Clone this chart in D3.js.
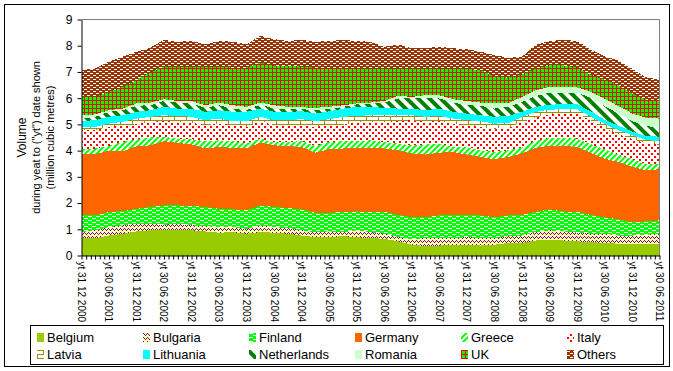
<!DOCTYPE html>
<html>
<head>
<meta charset="utf-8">
<script src="https://cdn.jsdelivr.net/npm/d3@7/dist/d3.min.js"></script>
<style>
body { margin: 0; background: #fff; }
svg { font-family: Arial, "Liberation Sans", sans-serif; }
</style>
</head>
<body>
<script>
var width = 673,
    height = 371;

// quarter ends shown on the chart (volume during year to date, million m3)
var quarters = ["2000-12","2001-03","2001-06","2001-09","2001-12","2002-03","2002-06","2002-09",
  "2002-12","2003-03","2003-06","2003-09","2003-12","2004-03","2004-06","2004-09","2004-12",
  "2005-03","2005-06","2005-09","2005-12","2006-03","2006-06","2006-09","2006-12","2007-03",
  "2007-06","2007-09","2007-12","2008-03","2008-06","2008-09","2008-12","2009-03","2009-06",
  "2009-09","2009-12","2010-03","2010-06","2010-09","2010-12","2011-03","2011-06"];

var belgium = [.66,.66,.76,.83,.92,.96,.98,.99,.96,.92,.87,.89,.83,.89,.87,.83,.76,.70,.70,.74,.70,.66,
  .64,.54,.41,.36,.38,.41,.41,.38,.41,.48,.48,.57,.61,.57,.54,.51,.48,.45,.45,.45,.45];
var bulgaria = [.23,.30,.32,.32,.29,.25,.19,.22,.19,.20,.21,.19,.19,.26,.21,.21,.20,.19,.22,.15,.26,.23,
  .19,.16,.20,.30,.28,.25,.29,.28,.25,.26,.28,.32,.35,.35,.33,.32,.35,.31,.31,.34,.38];
var finland = [.64,.57,.58,.54,.57,.64,.74,.70,.74,.73,.70,.68,.70,.76,.77,.77,.80,.74,.71,.77,.72,.77,
  .83,.85,.85,.80,.87,.87,.85,.87,.80,.79,.79,.77,.80,.76,.79,.72,.63,.62,.51,.51,.51];
var germany = [2.36,2.33,2.33,2.28,2.39,2.35,2.45,2.38,2.35,2.23,2.36,2.34,2.36,2.40,2.35,2.36,2.38,
  2.29,2.42,2.42,2.42,2.44,2.42,2.46,2.43,2.39,2.39,2.42,2.30,2.23,2.21,2.23,2.34,2.44,2.42,2.50,
  2.48,2.37,2.23,2.19,2.11,1.95,1.95];
var greece = [.19,.22,.19,.36,.26,.30,.16,.17,.19,.28,.25,.26,.19,.15,.11,.16,.22,.26,.28,.28,.26,.29,
  .25,.26,.31,.38,.35,.19,.29,.25,.28,.25,.23,.28,.30,.32,.32,.33,.36,.28,.30,.23,.21];
var italy = [.70,.70,.72,.64,.57,.60,.60,.64,.64,.61,.64,.61,.63,.66,.66,.64,.63,.72,.64,.63,.71,.71,
  .77,.85,.96,.87,.85,.89,.83,.89,.89,.86,.96,.88,.90,.92,.96,.91,.81,.78,.77,.80,.72];
var latvia = [.12,.12,.13,.13,.22,.19,.23,.22,.22,.19,.19,.15,.22,.17,.19,.19,.21,.22,.23,.30,.25,.25,
  .25,.23,.19,.19,.20,.19,.19,.22,.19,.18,.20,.22,.18,.16,.16,.14,.16,.15,.14,.13,.14];
var lithuania = [.23,.26,.26,.25,.26,.25,.32,.28,.31,.32,.32,.36,.36,.31,.32,.32,.30,.29,.30,.31,.35,.32,
  .28,.25,.25,.25,.28,.26,.25,.23,.26,.27,.20,.19,.19,.19,.19,.20,.16,.17,.14,.15,.17];
var netherlands = [.09,.13,.19,.19,.23,.19,.22,.23,.20,.15,.19,.12,.06,.16,.12,.12,.08,.13,.08,.07,.09,.11,
  .20,.39,.39,.47,.39,.35,.32,.36,.31,.35,.38,.41,.46,.43,.44,.52,.52,.46,.40,.38,.34];
var romania = [.13,.09,.06,.06,.09,.10,.07,.06,.09,.10,.10,.13,.13,.07,.13,.07,.07,.09,.09,.06,.04,.05,
  .06,.10,.06,.10,.12,.13,.16,.12,.23,.13,.19,.22,.22,.24,.20,.23,.28,.29,.29,.31,.35];
var uk = [.70,.67,.70,.83,.89,1.15,1.24,1.31,1.28,1.47,1.37,1.43,1.49,1.52,1.51,1.57,1.55,1.53,1.49,
  1.43,1.33,1.30,1.24,1.04,1.08,1.00,1.02,1.17,1.22,1.24,.99,.98,.85,.82,.83,.81,.75,.65,.72,.80,
  .76,.70,.70];
var others = [1.02,1.08,1.15,1.15,1.08,.94,1.02,.95,1.01,.85,.98,.99,.89,1.03,1.01,.94,1.02,.99,1.02,
  1.06,1.05,1.02,.83,.92,.77,.81,.83,.77,.76,.70,.82,.76,.68,.91,.92,.97,1.02,.95,.90,.93,.94,.85,.79];

var seriesNames = ["Belgium","Bulgaria","Finland","Germany","Greece","Italy",
  "Latvia","Lithuania","Netherlands","Romania","UK","Others"];
var seriesValues = [belgium, bulgaria, finland, germany, greece, italy,
  latvia, lithuania, netherlands, romania, uk, others];

var tickLabels = ["yt 31 12 2000","yt 30 06 2001","yt 31 12 2001","yt 30 06 2002","yt 31 12 2002",
  "yt 30 06 2003","yt 31 12 2003","yt 30 06 2004","yt 31 12 2004","yt 30 06 2005","yt 31 12 2005",
  "yt 30 06 2006","yt 31 12 2006","yt 30 06 2007","yt 31 12 2007","yt 30 06 2008","yt 31 12 2008",
  "yt 30 06 2009","yt 31 12 2009","yt 30 06 2010","yt 31 12 2010","yt 30 06 2011"];
var yTicks = [0,1,2,3,4,5,6,7,8,9];

var parseQ = d3.timeParse("%Y-%m");
var parseLabel = d3.timeParse("%d %m %Y");

var rows = quarters.map(function (q, i) {
  var r = { date: parseQ(q) };
  seriesNames.forEach(function (name, j) { r[name] = seriesValues[j][i]; });
  return r;
});

var svg = d3.select("body").append("svg")
  .attr("width", width)
  .attr("height", height);

// fill patterns, roughly like the old spreadsheet ones
var defs = svg.append("defs");

function pattern(id, w, h, bg, transform) {
  var p = defs.append("pattern")
    .attr("id", id)
    .attr("patternUnits", "userSpaceOnUse")
    .attr("width", w)
    .attr("height", h);
  if (transform) p.attr("patternTransform", transform);
  p.append("rect").attr("width", w).attr("height", h).attr("fill", bg);
  return p;
}
function px(p, x, y, w, h, c) {
  p.append("rect").attr("x", x).attr("y", y).attr("width", w).attr("height", h).attr("fill", c);
}

var pBul = pattern("p-bul", 4, 4, "#ffffb0");
px(pBul, 0, 0, 1, 1, "#800080"); px(pBul, 1, 1, 1, 1, "#800080");
px(pBul, 2, 2, 1, 1, "#800080"); px(pBul, 3, 1, 1, 1, "#800080");

var pFin = pattern("p-fin", 8, 4, "#00ff00");
px(pFin, 0, 0, 4, 1, "#ffffff"); px(pFin, 4, 2, 4, 1, "#ffffff");

var pGre = pattern("p-gre", 4, 4, "#ffffff", "rotate(45)");
px(pGre, 0, 0, 2, 4, "#00ff00");

var pIta = pattern("p-ita", 6, 6, "#ffffff");
px(pIta, 0, 0, 2, 2, "#ff0000"); px(pIta, 3, 3, 2, 2, "#ff0000");

var pLat = pattern("p-lat", 12, 8, "#ffffff");
px(pLat, 0, 0, 12, 1, "#a08c00"); px(pLat, 0, 4, 12, 1, "#a08c00");
px(pLat, 0, 0, 1, 4, "#a08c00"); px(pLat, 6, 4, 1, 4, "#a08c00");

var pNet = pattern("p-net", 8, 8, "#ffffff", "rotate(-45)");
px(pNet, 0, 0, 4, 8, "#008000");

var pUk = pattern("p-uk", 4, 4, "#00ff00");
px(pUk, 0, 0, 4, 1, "#ff0000"); px(pUk, 0, 0, 1, 4, "#ff0000");

var pOth = pattern("p-oth", 6, 4, "#993300");
px(pOth, 0, 1, 3, 1, "#ffffff"); px(pOth, 3, 3, 3, 1, "#ffffff");

var fills = ["#99cc00", "url(#p-bul)", "url(#p-fin)", "#ff6600", "url(#p-gre)", "url(#p-ita)",
  "url(#p-lat)", "#00ffff", "url(#p-net)", "#ccffcc", "url(#p-uk)", "url(#p-oth)"];

// plot box (note: "top" is taken by window.top)
var plotLeft = 81.5, plotRight = 659.5, plotTop = 19.5, plotBottom = 255.5;

var x = d3.scaleTime()
  .domain([parseQ(quarters[0]), parseQ(quarters[quarters.length - 1])])
  .range([plotLeft, plotRight]);
var y = d3.scaleLinear()
  .domain([0, 9])
  .range([plotBottom, plotTop]);

var stack = d3.stack().keys(seriesNames);
var layers = stack(rows);

var area = d3.area()
  .x(function (d) { return x(d.data.date); })
  .y0(function (d) { return y(d[0]); })
  .y1(function (d) { return y(d[1]); });

svg.append("g").selectAll("path")
  .data(layers)
  .enter()
  .append("path")
  .attr("d", area)
  .attr("fill", function (d, i) { return fills[i]; })
  .attr("shape-rendering", "crispEdges");

// plot frame: grey top and right, black axes
svg.append("path")
  .attr("d", "M" + plotLeft + "," + plotTop + "H" + plotRight + "V" + plotBottom)
  .attr("fill", "none")
  .attr("stroke", "#808080");

var yAxis = svg.append("g")
  .attr("transform", "translate(" + plotLeft + ",0)")
  .call(d3.axisLeft(y).tickValues(yTicks).tickSize(4).tickSizeOuter(0));
yAxis.attr("font-family", "Arial, 'Liberation Sans', sans-serif");
yAxis.select(".domain").attr("stroke", "#000");
yAxis.selectAll("text").attr("font-size", 12).attr("fill", "#000").attr("x", -9);

var months = d3.timeMonth.range(x.domain()[0], d3.timeMonth.offset(x.domain()[1], 1));
svg.append("g")
  .attr("transform", "translate(0," + plotBottom + ")")
  .call(d3.axisBottom(x).tickValues(months).tickSize(4).tickSizeOuter(0).tickFormat(""))
  .select(".domain").attr("stroke", "#000");

svg.append("g").selectAll("text")
  .data(tickLabels)
  .enter()
  .append("text")
  .attr("transform", function (d) {
    var dt = d3.timeMonth.floor(parseLabel(d.slice(3)));
    return "translate(" + x(dt) + "," + (plotBottom + 6) + ") rotate(90)";
  })
  .attr("dy", "0.35em")
  .attr("font-size", 10)
  .text(function (d) { return d; });

// y title
var cy = (plotTop + plotBottom) / 2;
var titles = [
  { t: "Volume", x: 22, s: 12 },
  { t: "during yeat to (\"yt\") date shown", x: 36, s: 11 },
  { t: "(million cubic metres)", x: 50, s: 11 }
];
svg.append("g").selectAll("text")
  .data(titles)
  .enter()
  .append("text")
  .attr("transform", function (d) { return "translate(" + d.x + "," + cy + ") rotate(-90)"; })
  .attr("text-anchor", "middle")
  .attr("dy", "0.35em")
  .attr("font-size", function (d) { return d.s; })
  .text(function (d) { return d.t; });

// legend
svg.append("rect")
  .attr("x", 30.5).attr("y", 325.5)
  .attr("width", 633).attr("height", 39)
  .attr("fill", "#fff").attr("stroke", "#000");

var legend = svg.append("g").selectAll("g")
  .data(seriesNames)
  .enter()
  .append("g")
  .attr("transform", function (d, i) {
    return "translate(" + (37 + (i % 6) * 106) + "," + (337 + Math.floor(i / 6) * 17) + ")";
  });
legend.append("rect")
  .attr("x", 0).attr("y", -4)
  .attr("width", 7).attr("height", 9)
  .attr("fill", function (d, i) { return fills[i]; });
legend.append("text")
  .attr("x", 10)
  .attr("dy", "0.35em")
  .attr("font-size", 13)
  .text(function (d) { return d; });

// outer chart border
svg.append("rect")
  .attr("x", 4.5).attr("y", 4.5)
  .attr("width", 665).attr("height", 362)
  .attr("fill", "none").attr("stroke", "#000");
</script>
</body>
</html>
